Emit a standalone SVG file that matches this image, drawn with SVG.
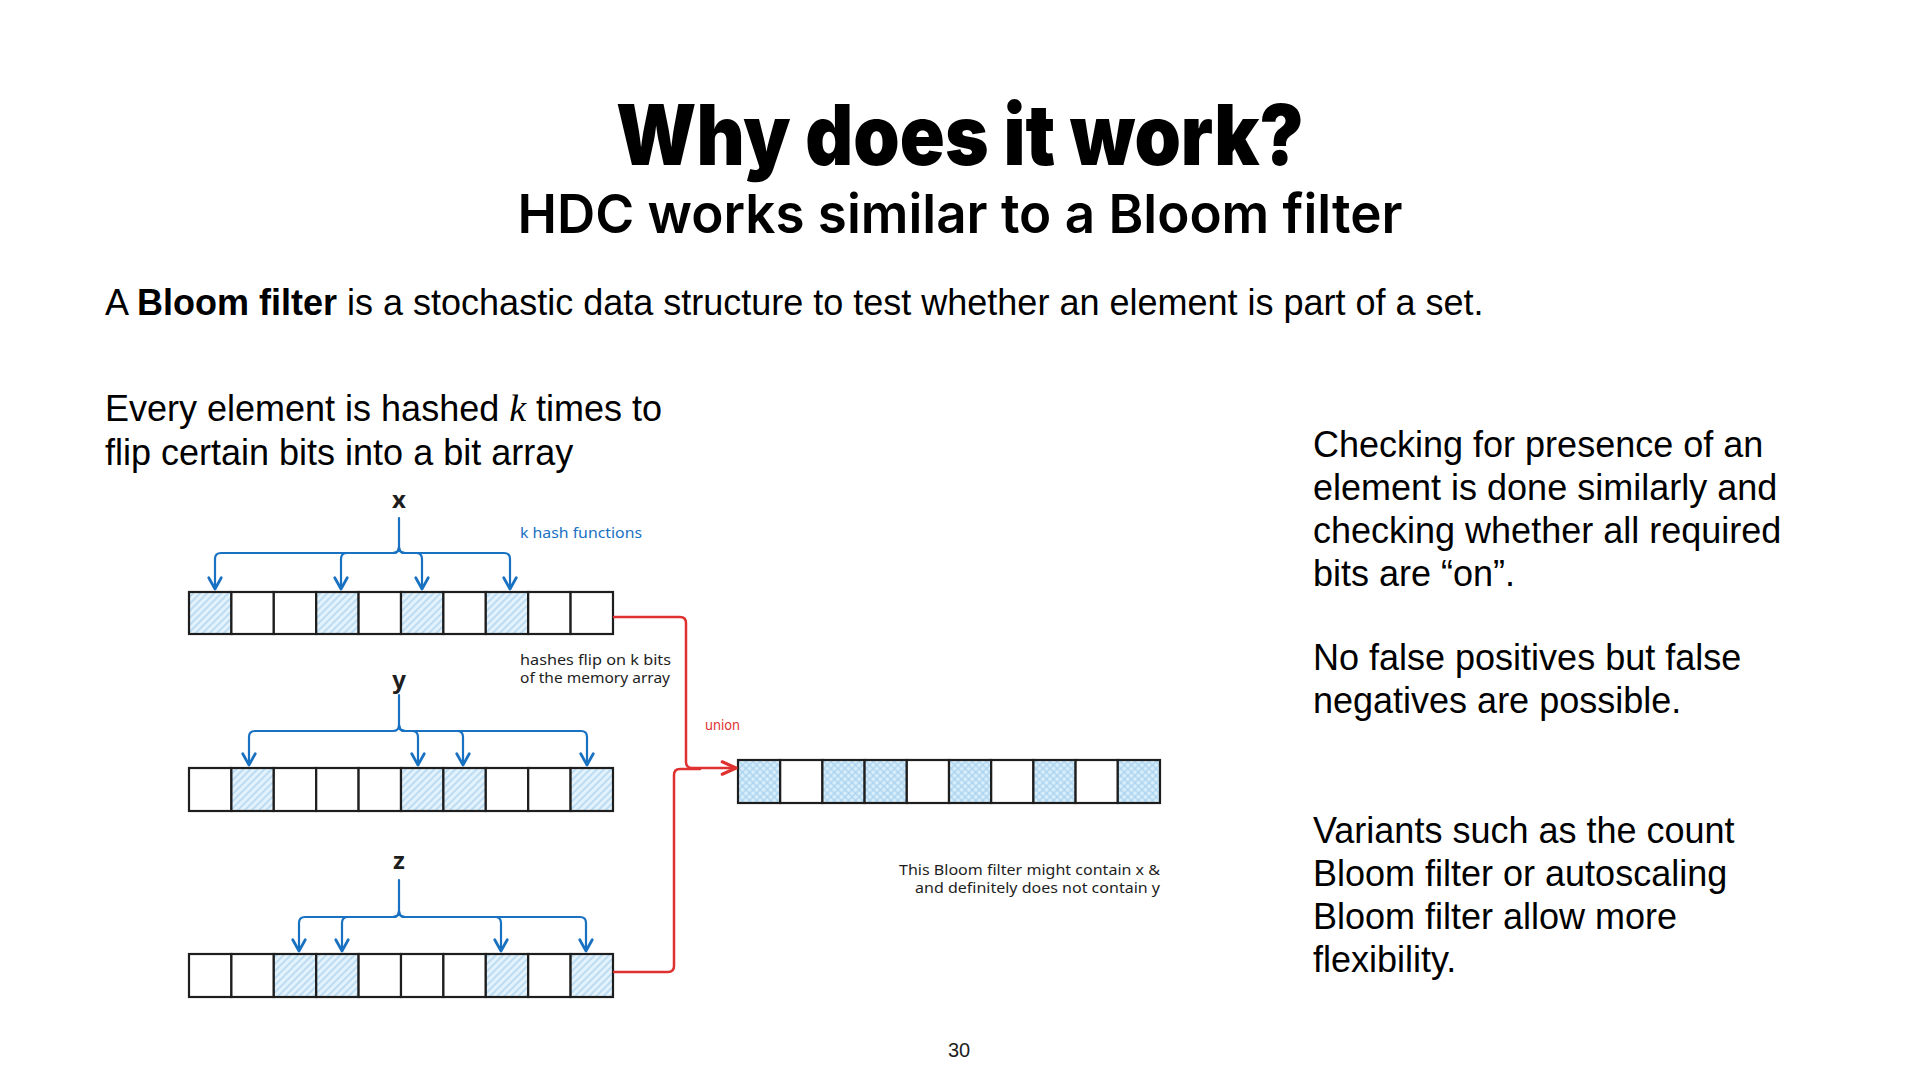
<svg xmlns="http://www.w3.org/2000/svg" width="1920" height="1080" viewBox="0 0 1920 1080">
<style>
.title{font-family:Inter,"Liberation Sans",sans-serif;font-weight:900;fill:#000}
.sub{font-family:Inter,"Liberation Sans",sans-serif;font-weight:600;fill:#000}
.body{font-family:"Liberation Sans",Arial,sans-serif;font-size:36px;fill:#000}
.hand{font-family:"Noto Sans","DejaVu Sans",sans-serif;font-size:14px;fill:#1e1e1e}
.lbl{font-family:"Noto Sans","DejaVu Sans",sans-serif;font-size:24px;fill:#1e1e1e;text-anchor:middle}
.cell{stroke:#1e1e1e;stroke-width:2.2;fill:#fff}
.on{fill:url(#hatch)}
.onx{fill:url(#xhatch)}
.blue{fill:none;stroke:#1971c2;stroke-width:2.2;stroke-linecap:round;stroke-linejoin:round}
.red{fill:none;stroke:#e03131;stroke-width:2.5;stroke-linecap:round;stroke-linejoin:round}
</style>
<defs>
<pattern id="hatch" patternUnits="userSpaceOnUse" width="5" height="5" patternTransform="rotate(45)">
<rect width="5" height="5" fill="#e4f2fc"/>
<line x1="1" y1="0" x2="1" y2="5" stroke="#a5d0ee" stroke-width="1.3"/>
</pattern>
<pattern id="xhatch" patternUnits="userSpaceOnUse" width="5" height="5" patternTransform="rotate(45)">
<rect width="5" height="5" fill="#d9eefb"/>
<line x1="1" y1="0" x2="1" y2="5" stroke="#a5d0ee" stroke-width="1.2"/>
<line x1="0" y1="1" x2="5" y2="1" stroke="#a5d0ee" stroke-width="1.2"/>
</pattern>
<marker id="ab" markerUnits="userSpaceOnUse" markerWidth="20" markerHeight="20" refX="0" refY="0" viewBox="-12 -8 14 16" orient="auto">
<path d="M-9,-5 L0,0 L-9,5" fill="none" stroke="#1971c2" stroke-width="2.2" stroke-linecap="round" stroke-linejoin="round"/>
</marker>
<marker id="ar" markerUnits="userSpaceOnUse" markerWidth="20" markerHeight="20" refX="0" refY="0" viewBox="-14 -8 16 16" orient="auto">
<path d="M-11,-5 L0,0 L-11,5" fill="none" stroke="#e03131" stroke-width="2.5" stroke-linecap="round" stroke-linejoin="round"/>
</marker>
</defs>
<rect width="1920" height="1080" fill="#fff"/>

<g id="heading">
<text class="title" x="960" y="165" font-size="84" text-anchor="middle" textLength="688" lengthAdjust="spacingAndGlyphs">Why does it work?</text>
<text class="sub" x="960" y="233" font-size="54" text-anchor="middle" textLength="885" lengthAdjust="spacingAndGlyphs">HDC works similar to a Bloom filter</text>
</g>

<g id="intro">
<text class="body" x="105" y="315">A <tspan font-weight="bold">Bloom filter</tspan> is a stochastic data structure to test whether an element is part of a set.</text>
<text class="body" x="105" y="421">Every element is hashed <tspan font-family="Liberation Serif,serif" font-style="italic" font-size="38">k</tspan> times to</text>
<text class="body" x="105" y="465">flip certain bits into a bit array</text>
</g>

<g id="notes">
<text class="body" x="1313" y="457">Checking for presence of an</text>
<text class="body" x="1313" y="500">element is done similarly and</text>
<text class="body" x="1313" y="543">checking whether all required</text>
<text class="body" x="1313" y="586">bits are “on”.</text>
<text class="body" x="1313" y="670">No false positives but false</text>
<text class="body" x="1313" y="713">negatives are possible.</text>
<text class="body" x="1313" y="843">Variants such as the count</text>
<text class="body" x="1313" y="886">Bloom filter or autoscaling</text>
<text class="body" x="1313" y="929">Bloom filter allow more</text>
<text class="body" x="1313" y="972">flexibility.</text>
</g>

<g id="label-x"><text class="lbl" x="399" y="508" font-weight="bold" font-size="22">x</text></g>
<g id="label-y"><text class="lbl" x="399" y="688" font-weight="bold" font-size="30">y</text></g>
<g id="label-z"><text class="lbl" x="399" y="869" font-weight="bold" font-size="22">z</text></g>

<g id="array-x">
<rect class="cell on" x="189" y="592" width="42.4" height="42"/>
<rect class="cell" x="231.4" y="592" width="42.4" height="42"/>
<rect class="cell" x="273.8" y="592" width="42.4" height="42"/>
<rect class="cell on" x="316.2" y="592" width="42.4" height="42"/>
<rect class="cell" x="358.6" y="592" width="42.4" height="42"/>
<rect class="cell on" x="401" y="592" width="42.4" height="42"/>
<rect class="cell" x="443.4" y="592" width="42.4" height="42"/>
<rect class="cell on" x="485.8" y="592" width="42.4" height="42"/>
<rect class="cell" x="528.2" y="592" width="42.4" height="42"/>
<rect class="cell" x="570.6" y="592" width="42.4" height="42"/>
</g>

<g id="array-y">
<rect class="cell" x="189" y="768" width="42.4" height="43"/>
<rect class="cell on" x="231.4" y="768" width="42.4" height="43"/>
<rect class="cell" x="273.8" y="768" width="42.4" height="43"/>
<rect class="cell" x="316.2" y="768" width="42.4" height="43"/>
<rect class="cell" x="358.6" y="768" width="42.4" height="43"/>
<rect class="cell on" x="401" y="768" width="42.4" height="43"/>
<rect class="cell on" x="443.4" y="768" width="42.4" height="43"/>
<rect class="cell" x="485.8" y="768" width="42.4" height="43"/>
<rect class="cell" x="528.2" y="768" width="42.4" height="43"/>
<rect class="cell on" x="570.6" y="768" width="42.4" height="43"/>
</g>

<g id="array-z">
<rect class="cell" x="189" y="954" width="42.4" height="43"/>
<rect class="cell" x="231.4" y="954" width="42.4" height="43"/>
<rect class="cell on" x="273.8" y="954" width="42.4" height="43"/>
<rect class="cell on" x="316.2" y="954" width="42.4" height="43"/>
<rect class="cell" x="358.6" y="954" width="42.4" height="43"/>
<rect class="cell" x="401" y="954" width="42.4" height="43"/>
<rect class="cell" x="443.4" y="954" width="42.4" height="43"/>
<rect class="cell on" x="485.8" y="954" width="42.4" height="43"/>
<rect class="cell" x="528.2" y="954" width="42.4" height="43"/>
<rect class="cell on" x="570.6" y="954" width="42.4" height="43"/>
</g>

<g id="array-union">
<rect class="cell onx" x="738" y="760" width="42.2" height="43"/>
<rect class="cell" x="780.2" y="760" width="42.2" height="43"/>
<rect class="cell onx" x="822.4" y="760" width="42.2" height="43"/>
<rect class="cell onx" x="864.6" y="760" width="42.2" height="43"/>
<rect class="cell" x="906.8" y="760" width="42.2" height="43"/>
<rect class="cell onx" x="949" y="760" width="42.2" height="43"/>
<rect class="cell" x="991.2" y="760" width="42.2" height="43"/>
<rect class="cell onx" x="1033.4" y="760" width="42.2" height="43"/>
<rect class="cell" x="1075.6" y="760" width="42.2" height="43"/>
<rect class="cell onx" x="1117.8" y="760" width="42.2" height="43"/>
</g>

<g id="annotations">
<text class="hand" x="520" y="538" style="fill:#1971c2" textLength="122" lengthAdjust="spacingAndGlyphs">k hash functions</text>
<text class="hand" x="520" y="665" textLength="151" lengthAdjust="spacingAndGlyphs">hashes flip on k bits</text>
<text class="hand" x="520" y="683" textLength="150" lengthAdjust="spacingAndGlyphs">of the memory array</text>
<text class="hand" x="705" y="730" style="fill:#e03131" textLength="35" lengthAdjust="spacingAndGlyphs">union</text>
<text class="hand" x="1160" y="875" text-anchor="end" textLength="261" lengthAdjust="spacingAndGlyphs">This Bloom filter might contain x &amp;</text>
<text class="hand" x="1160" y="893" text-anchor="end" textLength="245" lengthAdjust="spacingAndGlyphs">and definitely does not contain y</text>
</g>

<g id="connectors">
<path class="blue" d="M399,518 L399,547 Q399,553 393,553 L221,553 Q215,553 215,559 L215,589" marker-end="url(#ab)"/>
<path class="blue" d="M399,547 Q399,553 393,553 L347,553 Q341,553 341,559 L341,589" marker-end="url(#ab)"/>
<path class="blue" d="M399,547 Q399,553 405,553 L416,553 Q422,553 422,559 L422,589" marker-end="url(#ab)"/>
<path class="blue" d="M399,547 Q399,553 405,553 L504,553 Q510,553 510,559 L510,589" marker-end="url(#ab)"/>
<path class="blue" d="M399,695 L399,725 Q399,731 393,731 L255,731 Q249,731 249,737 L249,765" marker-end="url(#ab)"/>
<path class="blue" d="M399,725 Q399,731 405,731 L412,731 Q418,731 418,737 L418,765" marker-end="url(#ab)"/>
<path class="blue" d="M399,725 Q399,731 405,731 L457,731 Q463,731 463,737 L463,765" marker-end="url(#ab)"/>
<path class="blue" d="M399,725 Q399,731 405,731 L581,731 Q587,731 587,737 L587,765" marker-end="url(#ab)"/>
<path class="blue" d="M399,880 L399,911 Q399,917 393,917 L305,917 Q299,917 299,923 L299,951" marker-end="url(#ab)"/>
<path class="blue" d="M399,911 Q399,917 393,917 L348,917 Q342,917 342,923 L342,951" marker-end="url(#ab)"/>
<path class="blue" d="M399,911 Q399,917 405,917 L495,917 Q501,917 501,923 L501,951" marker-end="url(#ab)"/>
<path class="blue" d="M399,911 Q399,917 405,917 L580,917 Q586,917 586,923 L586,951" marker-end="url(#ab)"/>
<path class="red" d="M614,617 L680,617 Q686,617 686,623 L686,762 Q686,768 692,768 L736,768" marker-end="url(#ar)"/>
<path class="red" d="M614,972 L668,972 Q674,972 674,966 L674,775 Q674,769 680,769 L700,769"/>
</g>

<g id="page-number">
<text x="959" y="1057" font-family="Liberation Sans,Arial,sans-serif" font-size="20" text-anchor="middle" fill="#1e1e1e">30</text>
</g>
</svg>
